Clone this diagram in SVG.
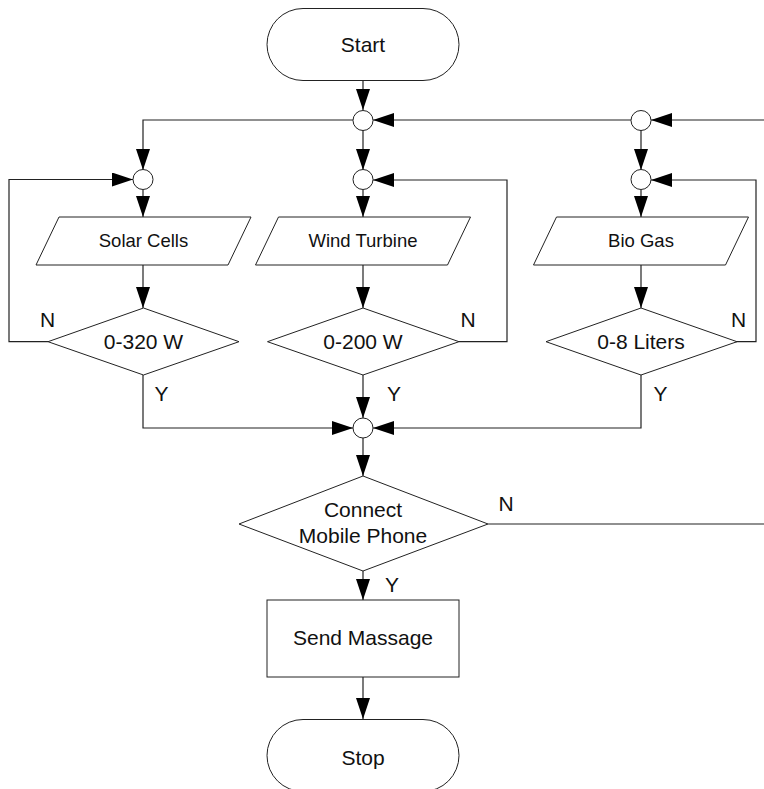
<svg xmlns="http://www.w3.org/2000/svg" width="764" height="789" viewBox="0 0 764 789">
<defs>
<style>
.s{fill:#fff;stroke:#222;stroke-width:1}
.c{fill:none;stroke:#222;stroke-width:1.2}
text{font-family:"Liberation Sans",Arial,sans-serif;fill:#111;text-anchor:middle}
.t{font-size:21px}
.p{font-size:18.5px}
</style>
<marker id="ah" markerUnits="userSpaceOnUse" markerWidth="21" markerHeight="14" refX="21" refY="7" orient="auto" viewBox="0 0 21 14">
<path d="M0,0 L21,7 L0,14 z" fill="#000"/>
</marker>
</defs>
<rect width="764" height="789" fill="#fff"/>
<g id="connectors" class="c">
<path d="M363,81 V110" marker-end="url(#ah)"/>
<path d="M353,120 H143 V170" marker-end="url(#ah)"/>
<path d="M363,130 V170" marker-end="url(#ah)"/>
<path d="M764,120 H651" marker-end="url(#ah)"/>
<path d="M631,120 H373" marker-end="url(#ah)"/>
<path d="M641,130 V170" marker-end="url(#ah)"/>
<path d="M48,341.7 H9 V179.5 H133" marker-end="url(#ah)"/>
<path d="M459,341.7 H507 V180 H373" marker-end="url(#ah)"/>
<path d="M724,341.7 H756 V180 H651" marker-end="url(#ah)"/>
<path d="M143,190 V217" marker-end="url(#ah)"/>
<path d="M363,190 V217" marker-end="url(#ah)"/>
<path d="M641,190 V217" marker-end="url(#ah)"/>
<path d="M143,265 V308" marker-end="url(#ah)"/>
<path d="M363,265 V308" marker-end="url(#ah)"/>
<path d="M641,265 V308" marker-end="url(#ah)"/>
<path d="M143,375 V428 H353" marker-end="url(#ah)"/>
<path d="M363,375 V418" marker-end="url(#ah)"/>
<path d="M641,375 V428 H373" marker-end="url(#ah)"/>
<path d="M363,438 V476" marker-end="url(#ah)"/>
<path d="M488,524 H764"/>
<path d="M363,571 V600" marker-end="url(#ah)"/>
<path d="M363,677 V719" marker-end="url(#ah)"/>
</g>
<g id="start"><rect class="s" x="267" y="8.5" width="192" height="72" rx="36" ry="36"/><text class="t" x="363" y="51.5">Start</text></g>
<g id="j-top"><circle class="s" cx="363" cy="120.5" r="10"/></g>
<g id="j-top-right"><circle class="s" cx="641" cy="120.5" r="10"/></g>
<g id="j-solar"><circle class="s" cx="143" cy="179.5" r="10"/></g>
<g id="j-wind"><circle class="s" cx="363" cy="179.5" r="10"/></g>
<g id="j-bio"><circle class="s" cx="641" cy="179.5" r="10"/></g>
<g id="solar"><polygon class="s" points="59,217 251,217 228,265 36,265"/><text class="p" x="143.5" y="247">Solar Cells</text></g>
<g id="wind"><polygon class="s" points="278.5,217 470.5,217 447.5,265 255.5,265"/><text class="p" x="363" y="247">Wind Turbine</text></g>
<g id="bio"><polygon class="s" points="556.5,217 748.5,217 725.5,265 533.5,265"/><text class="p" x="641" y="247">Bio Gas</text></g>
<g id="d-solar"><polygon class="s" points="143.5,308 239,341.7 143.5,375 48,341.7"/><text class="t" x="143.5" y="349">0-320 W</text></g>
<g id="d-wind"><polygon class="s" points="363,308 459,341.7 363,375 267.5,341.7"/><text class="t" x="363" y="349">0-200 W</text></g>
<g id="d-bio"><polygon class="s" points="641,308 737,341.7 641,375 546,341.7"/><text class="t" x="641" y="349">0-8 Liters</text></g>
<g id="j-merge"><circle class="s" cx="363" cy="428" r="10"/></g>
<g id="d-connect"><polygon class="s" points="363,476 488,524 363,571 239,524"/><text class="t" x="363" y="517">Connect</text><text class="t" x="363" y="543">Mobile Phone</text></g>
<g id="send"><rect class="s" x="267" y="600" width="192" height="77"/><text class="t" x="363" y="645">Send Massage</text></g>
<g id="stop"><rect class="s" x="267" y="719.5" width="192" height="72" rx="36" ry="36"/><text class="t" x="363" y="765">Stop</text></g>
<g id="labels">
<text class="t" x="47.5" y="326.5">N</text>
<text class="t" x="468" y="326.5">N</text>
<text class="t" x="738.5" y="326.5">N</text>
<text class="t" x="161.5" y="400.5">Y</text>
<text class="t" x="394" y="400.5">Y</text>
<text class="t" x="660.5" y="400.5">Y</text>
<text class="t" x="506" y="510.5">N</text>
<text class="t" x="392" y="591.5">Y</text>
</g>
</svg>
